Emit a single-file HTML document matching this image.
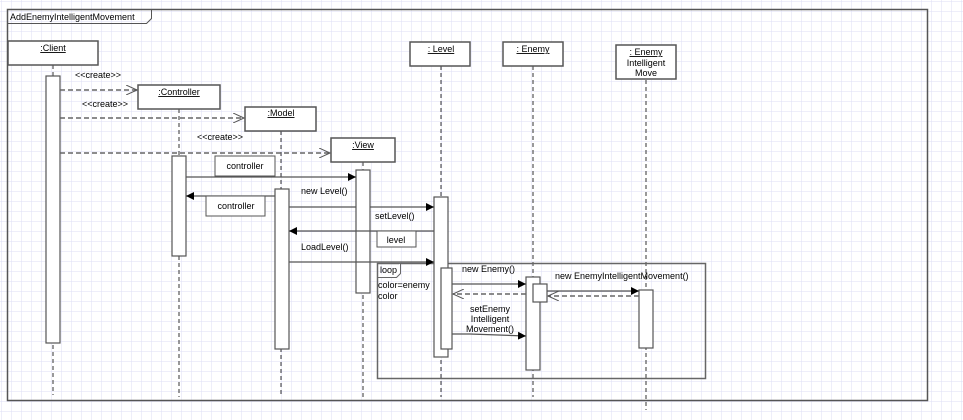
<!DOCTYPE html>
<html><head><meta charset="utf-8"><style>
html,body{margin:0;padding:0;background:#fff}
svg{display:block}
text{font-family:"Liberation Sans",sans-serif;font-size:9px;fill:#000}
</style></head><body>
<svg width="963" height="420" xmlns="http://www.w3.org/2000/svg">
<defs>
<pattern id="g" width="10" height="10" patternUnits="userSpaceOnUse" x="2" y="2">
<path d="M10 0V10M0 10H10" stroke="#dedef5" stroke-width="1" fill="none"/>
</pattern>
<marker id="f" markerWidth="8" markerHeight="8" refX="8" refY="4" orient="auto" markerUnits="userSpaceOnUse"><path d="M0,0L8,4L0,8z" fill="#000"/></marker>
<marker id="o" markerWidth="12" markerHeight="10" refX="11" refY="5" orient="auto" markerUnits="userSpaceOnUse"><path d="M0,0L11,5L0,10" fill="none" stroke="#555" stroke-width="1"/></marker>
</defs>
<rect width="963" height="420" fill="url(#g)"/>
<rect x="7.5" y="9.5" width="920" height="391" fill="none" stroke="#555" stroke-width="1.5"/>
<path d="M7.5 23.5H146.5L151.5 18.5V9.5" fill="none" stroke="#555"/>
<text x="10" y="20">AddEnemyIntelligentMovement</text>

<g stroke="#333" stroke-dasharray="4,3" stroke-width="1">
<line x1="53" y1="65" x2="53" y2="395"/>
<line x1="179" y1="109" x2="179" y2="397"/>
<line x1="281" y1="131" x2="281" y2="397"/>
<line x1="363" y1="162" x2="363" y2="397"/>
<line x1="441" y1="66" x2="441" y2="397"/>
<line x1="533" y1="66" x2="533" y2="397"/>
<line x1="646" y1="80" x2="646" y2="410"/>
</g>

<rect x="377.5" y="263.5" width="328" height="115" fill="none" stroke="#666" stroke-width="1.5"/>
<path d="M377.5 277.5H396.5L400.5 273.5V263.5" fill="white" stroke="#666"/>
<text x="380" y="273">loop</text>
<text x="378" y="288">color=enemy</text>
<text x="378" y="299">color</text>

<g fill="#fff" stroke="#555" stroke-width="1.5">
<rect x="8" y="41" width="90" height="24"/>
<rect x="138" y="85" width="82" height="24"/>
<rect x="245" y="107" width="71" height="24"/>
<rect x="331" y="138" width="64" height="24"/>
<rect x="410" y="42" width="60" height="24"/>
<rect x="503" y="42" width="60" height="24"/>
<rect x="616" y="45" width="60" height="34"/>
</g>
<g text-anchor="middle" text-decoration="underline">
<text x="53" y="51">:Client</text>
<text x="179" y="95">:Controller</text>
<text x="281" y="116">:Model</text>
<text x="363" y="148">:View</text>
<text x="441" y="52">: Level</text>
<text x="533" y="52">: Enemy</text>
<text x="646" y="55">: Enemy</text>
</g>
<text x="646" y="66" text-anchor="middle">Intelligent</text>
<text x="646" y="76" text-anchor="middle">Move</text>

<g fill="#fff" stroke="#555" stroke-width="1.2">
<rect x="46" y="76" width="14" height="267"/>
<rect x="172" y="156" width="14" height="100"/>
<rect x="275" y="189" width="14" height="160"/>
<rect x="356" y="170" width="14" height="123"/>
<rect x="434" y="197" width="14" height="160"/>
<rect x="441" y="268" width="11" height="81"/>
<rect x="526" y="277" width="14" height="93"/>
<rect x="533" y="284" width="14" height="18"/>
<rect x="639" y="290" width="14" height="58"/>
</g>

<g stroke="#666" stroke-width="1.5" stroke-dasharray="5,3" fill="none">
<line x1="60" y1="90" x2="137" y2="90" marker-end="url(#o)"/>
<line x1="60" y1="118" x2="244" y2="118" marker-end="url(#o)"/>
<line x1="60" y1="153" x2="330" y2="153" marker-end="url(#o)"/>
<line x1="526" y1="294" x2="453" y2="294" marker-end="url(#o)"/>
<line x1="639" y1="296" x2="548" y2="296" marker-end="url(#o)"/>
</g>
<text x="75" y="78" font-size="8">&lt;&lt;create&gt;&gt;</text>
<text x="82" y="107" font-size="8">&lt;&lt;create&gt;&gt;</text>
<text x="197" y="140" font-size="8">&lt;&lt;create&gt;&gt;</text>

<g stroke="#555" stroke-width="1.2" fill="none">
<line x1="186" y1="177" x2="356" y2="177" marker-end="url(#f)"/>
<line x1="275" y1="196" x2="186" y2="196" marker-end="url(#f)"/>
<line x1="289" y1="207" x2="356" y2="207"/>
<line x1="370" y1="207" x2="434" y2="207" marker-end="url(#f)"/>
<line x1="434" y1="231" x2="289" y2="231" marker-end="url(#f)"/>
<line x1="289" y1="262" x2="434" y2="262" marker-end="url(#f)"/>
<line x1="452" y1="284" x2="526" y2="284" marker-end="url(#f)"/>
<line x1="547" y1="291" x2="639" y2="291" marker-end="url(#f)"/>
<path d="M452 334H470L526 336" marker-end="url(#f)"/>
</g>
<g fill="#fff" stroke="#555" stroke-width="1">
<rect x="215" y="156" width="60" height="20"/>
<rect x="206" y="196" width="59" height="20"/>
<rect x="377" y="231" width="39" height="16"/>
</g>
<text x="245" y="169" text-anchor="middle">controller</text>
<text x="236" y="209" text-anchor="middle">controller</text>
<text x="396" y="243" text-anchor="middle">level</text>
<text x="301" y="194">new Level()</text>
<text x="375" y="219">setLevel()</text>
<text x="301" y="250">LoadLevel()</text>
<text x="462" y="272">new Enemy()</text>
<text x="555" y="279">new EnemyIntelligentMovement()</text>
<text x="490" y="312" text-anchor="middle">setEnemy</text>
<text x="490" y="322" text-anchor="middle">Intelligent</text>
<text x="490" y="332" text-anchor="middle">Movement()</text>
</svg>
</body></html>
